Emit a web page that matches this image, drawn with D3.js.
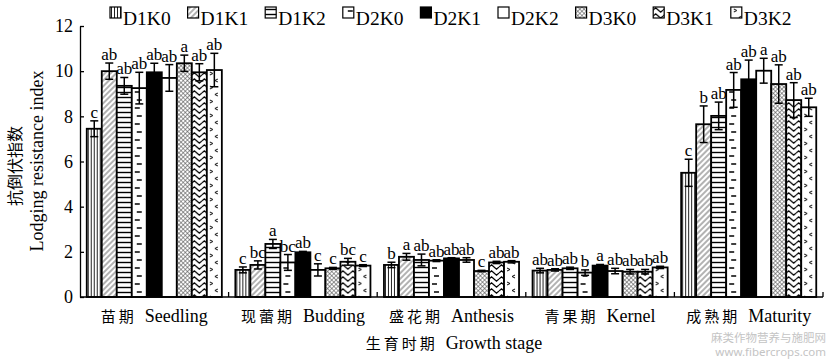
<!DOCTYPE html>
<html>
<head>
<meta charset="utf-8">
<script src="https://cdn.jsdelivr.net/npm/d3@7"></script>
<style>
  body { margin: 0; background: #fff; }
  text { font-family: "Liberation Serif", "Times New Roman", serif; fill: #000; }
</style>
</head>
<body>
<svg id="chart"></svg>
<script>
// growth stages (Chinese / English)
var stagesCn = ["苗期", "现蕾期", "盛花期", "青果期", "成熟期"];
var stagesEn = ["Seedling", "Budding", "Anthesis", "Kernel", "Maturity"];
var series = ["D1K0", "D1K1", "D1K2", "D2K0", "D2K1", "D2K2", "D3K0", "D3K1", "D3K2"];
var yTicks = [0, 2, 4, 6, 8, 10, 12];

// mean lodging resistance index, one row per stage
var meanSeedling = [7.45, 10.0, 9.35, 9.25, 9.95, 9.7, 10.35, 9.95, 10.05];
var meanBudding  = [1.2, 1.42, 2.35, 1.53, 1.98, 1.2, 1.27, 1.56, 1.39];
var meanAnthesis = [1.42, 1.78, 1.64, 1.61, 1.71, 1.64, 1.15, 1.53, 1.56];
var meanKernel   = [1.17, 1.2, 1.27, 1.08, 1.39, 1.15, 1.12, 1.12, 1.31];
var meanMaturity = [5.5, 7.65, 8.02, 9.17, 9.64, 10.02, 9.43, 8.72, 8.4];

// standard errors
var errSeedling = [0.35, 0.36, 0.37, 0.7, 0.4, 0.59, 0.36, 0.38, 0.74];
var errBudding  = [0.13, 0.18, 0.2, 0.35, 0.04, 0.27, 0.04, 0.15, 0.04];
var errAnthesis = [0.12, 0.15, 0.26, 0.04, 0.03, 0.1, 0.03, 0.05, 0.05];
var errKernel   = [0.1, 0.05, 0.05, 0.12, 0.05, 0.12, 0.1, 0.1, 0.05];
var errMaturity = [0.6, 0.81, 0.61, 0.77, 0.85, 0.55, 0.85, 0.77, 0.4];

// significance letters
var sigSeedling = ["c", "ab", "ab", "ab", "ab", "ab", "a", "ab", "ab"];
var sigBudding  = ["c", "bc", "a", "bc", "ab", "c", "c", "bc", "c"];
var sigAnthesis = ["b", "a", "ab", "ab", "ab", "ab", "c", "ab", "ab"];
var sigKernel   = ["ab", "ab", "ab", "b", "a", "ab", "ab", "ab", "ab"];
var sigMaturity = ["c", "b", "ab", "ab", "ab", "a", "ab", "ab", "ab"];

var means = [meanSeedling, meanBudding, meanAnthesis, meanKernel, meanMaturity];
var errs = [errSeedling, errBudding, errAnthesis, errKernel, errMaturity];
var sigs = [sigSeedling, sigBudding, sigAnthesis, sigKernel, sigMaturity];

var data = [];
stagesEn.forEach(function(s, i){
  series.forEach(function(k, j){
    data.push({stage: s, key: k, value: means[i][j], err: errs[i][j], sig: sigs[i][j]});
  });
});

var width = 831, height = 361;
var svg = d3.select("#chart").attr("width", width).attr("height", height);

var margins = {top: 26, bottom: 64, left: 80, right: 8};

var xScale = d3.scaleBand()
               .domain(stagesEn)
               .range([margins.left, width - margins.right])
               .padding(0);

var xInner = d3.scaleBand()
               .domain(series)
               .range([0, xScale.bandwidth()])
               .paddingInner(0)
               .paddingOuter(0.45);

var yScale = d3.scaleLinear()
               .domain([0, 12])
               .range([height - margins.bottom, margins.top]);

// fill patterns
var defs = svg.append("defs");
function pat(id, w, h, rot){
  var p = defs.append("pattern").attr("id", id)
              .attr("patternUnits", "userSpaceOnUse")
              .attr("width", w).attr("height", h);
  if (rot) p.attr("patternTransform", "rotate(" + rot + ")");
  p.append("rect").attr("width", w).attr("height", h).attr("fill", "#fff");
  return p;
}
var p;
p = pat("D1K0", 3, 3);
p.append("line").attr("x1", 1.5).attr("x2", 1.5).attr("y1", 0).attr("y2", 3).attr("stroke", "#222").attr("stroke-width", 1);
p = pat("D1K1", 4, 4, -45);
p.append("line").attr("x1", 0).attr("x2", 4).attr("y1", 2).attr("y2", 2).attr("stroke", "#555").attr("stroke-width", 0.9);
p = pat("D1K2", 5, 5);
p.append("line").attr("x1", 0).attr("x2", 5).attr("y1", 2.5).attr("y2", 2.5).attr("stroke", "#000").attr("stroke-width", 1.4);
p = pat("D2K0", 15, 16);
p.append("line").attr("x1", 5).attr("x2", 10).attr("y1", 4).attr("y2", 4).attr("stroke", "#000").attr("stroke-width", 1.5);
p.append("line").attr("x1", 3).attr("x2", 8).attr("y1", 12).attr("y2", 12).attr("stroke", "#000").attr("stroke-width", 1.5);
p = pat("D2K1", 4, 4);
p.select("rect").attr("fill", "#000");
p = pat("D2K2", 4, 4);
p = pat("D3K0", 3, 3, 45);
p.append("line").attr("x1", 0).attr("x2", 3).attr("y1", 1.5).attr("y2", 1.5).attr("stroke", "#555").attr("stroke-width", 0.6);
p.append("line").attr("x1", 1.5).attr("x2", 1.5).attr("y1", 0).attr("y2", 3).attr("stroke", "#555").attr("stroke-width", 0.6);
p = pat("D3K1", 10, 6);
p.append("path").attr("d", "M0,3 L2.5,0.8 L5,3 L7.5,5.2 L10,3").attr("fill", "none").attr("stroke", "#000").attr("stroke-width", 1.2);
p = pat("D3K2", 15, 14);
p.append("path").attr("d", "M3,2 L6,3.5 L3,5").attr("fill", "none").attr("stroke", "#000").attr("stroke-width", 1);
p.append("path").attr("d", "M11,9 L8,10.5 L11,12").attr("fill", "none").attr("stroke", "#000").attr("stroke-width", 1);

// bars
var plot = svg.append("g").classed("plot", true);
var bars = plot.selectAll("g.bar")
               .data(data)
               .enter()
               .append("g")
               .attr("class", "bar")
               .attr("transform", function(d){ return "translate(" + (xScale(d.stage) + xInner(d.key)) + ",0)"; });

bars.append("rect")
    .attr("x", 0)
    .attr("y", function(d){ return yScale(d.value); })
    .attr("width", xInner.bandwidth())
    .attr("height", function(d){ return yScale(0) - yScale(d.value); })
    .attr("fill", function(d){ return "url(#" + d.key + ")"; })
    .attr("stroke", "#000")
    .attr("stroke-width", 1.8);

var bw = xInner.bandwidth();
bars.append("line")
    .attr("x1", bw / 2).attr("x2", bw / 2)
    .attr("y1", function(d){ return yScale(d.value + d.err); })
    .attr("y2", function(d){ return yScale(d.value - d.err); })
    .attr("stroke", "#000").attr("stroke-width", 1.5);
[1, -1].forEach(function(sgn){
  bars.append("line")
      .attr("x1", bw / 2 - 4).attr("x2", bw / 2 + 4)
      .attr("y1", function(d){ return yScale(d.value + sgn * d.err); })
      .attr("y2", function(d){ return yScale(d.value + sgn * d.err); })
      .attr("stroke", "#000").attr("stroke-width", 1.5);
});

bars.append("text")
    .attr("x", bw / 2)
    .attr("y", function(d){ return yScale(d.value + d.err) - 3; })
    .attr("text-anchor", "middle")
    .style("font-size", "17px")
    .text(function(d){ return d.sig; });

// y axis
var yAxis = d3.axisLeft(yScale).tickValues(yTicks).tickSizeInner(-4).tickSizeOuter(0).tickPadding(7);
var yG = svg.append("g").attr("transform", "translate(" + margins.left + ",0)").call(yAxis);
yG.selectAll("text").style("font-size", "18px").style("font-family", "Liberation Serif");
yG.selectAll("path,line").attr("stroke", "#000").attr("stroke-width", 1.3);

// x axis: line + boundary ticks
var x0 = margins.left, x1 = width - margins.right, y0 = yScale(0);
svg.append("line").attr("x1", x0).attr("x2", x1).attr("y1", y0).attr("y2", y0)
   .attr("stroke", "#000").attr("stroke-width", 1.5);
var bounds = stagesEn.slice(1).map(function(s){ return xScale(s); }).concat([x1]);
svg.selectAll("line.xtick").data(bounds).enter().append("line")
   .attr("class", "xtick")
   .attr("x1", function(d){ return d; }).attr("x2", function(d){ return d; })
   .attr("y1", y0).attr("y2", y0 - 5)
   .attr("stroke", "#000").attr("stroke-width", 1.3);

// category labels
var cat = svg.selectAll("text.cat").data(stagesEn).enter().append("text")
   .attr("class", "cat")
   .attr("x", function(d){ return xScale(d) + xScale.bandwidth() / 2; })
   .attr("y", y0 + 25)
   .attr("text-anchor", "middle");
cat.append("tspan")
   .style("font-family", "Noto Sans CJK SC").style("font-size", "15px").style("letter-spacing", "3px")
   .text(function(d, i){ return stagesCn[i]; });
cat.append("tspan").attr("dx", 8)
   .style("font-size", "18px")
   .text(function(d){ return d; });

// x title
var xt = svg.append("text").attr("x", 454).attr("y", y0 + 52).attr("text-anchor", "middle");
xt.append("tspan").style("font-family", "Noto Sans CJK SC").style("font-size", "15px").style("letter-spacing", "3px").text("生育时期");
xt.append("tspan").attr("dx", 8).style("font-size", "18px").text("Growth stage");

// y title
svg.append("text")
   .attr("transform", "translate(21,166) rotate(-90)")
   .attr("text-anchor", "middle")
   .style("font-family", "Noto Sans CJK SC").style("font-size", "16px")
   .text("抗倒伏指数");
svg.append("text")
   .attr("transform", "translate(43,161) rotate(-90)")
   .attr("text-anchor", "middle")
   .style("font-size", "18px")
   .text("Lodging resistance index");

// legend
var legend = svg.selectAll("g.leg").data(series).enter().append("g")
   .attr("class", "leg")
   .attr("transform", function(d, i){ return "translate(" + (110 + i * 77.6) + ",7)"; });
legend.append("rect").attr("width", 11).attr("height", 11)
   .attr("fill", function(d){ return "url(#" + d + ")"; })
   .attr("stroke", "#000").attr("stroke-width", 1.2);
legend.append("text").attr("x", 13).attr("y", 12).attr("dy", "0.33em")
   .style("font-size", "19.5px")
   .text(function(d){ return d; });

// watermark
svg.append("text").attr("x", 826).attr("y", 342).attr("text-anchor", "end")
   .style("font-family", "Noto Sans CJK SC").style("font-size", "11.5px").style("fill", "#c4c4c4")
   .text("麻类作物营养与施肥网");
svg.append("text").attr("x", 826).attr("y", 356).attr("text-anchor", "end")
   .style("font-family", "Noto Sans").style("font-size", "11.5px").style("fill", "#c4c4c4")
   .text("www.fibercrops.com");
</script>
</body>
</html>
